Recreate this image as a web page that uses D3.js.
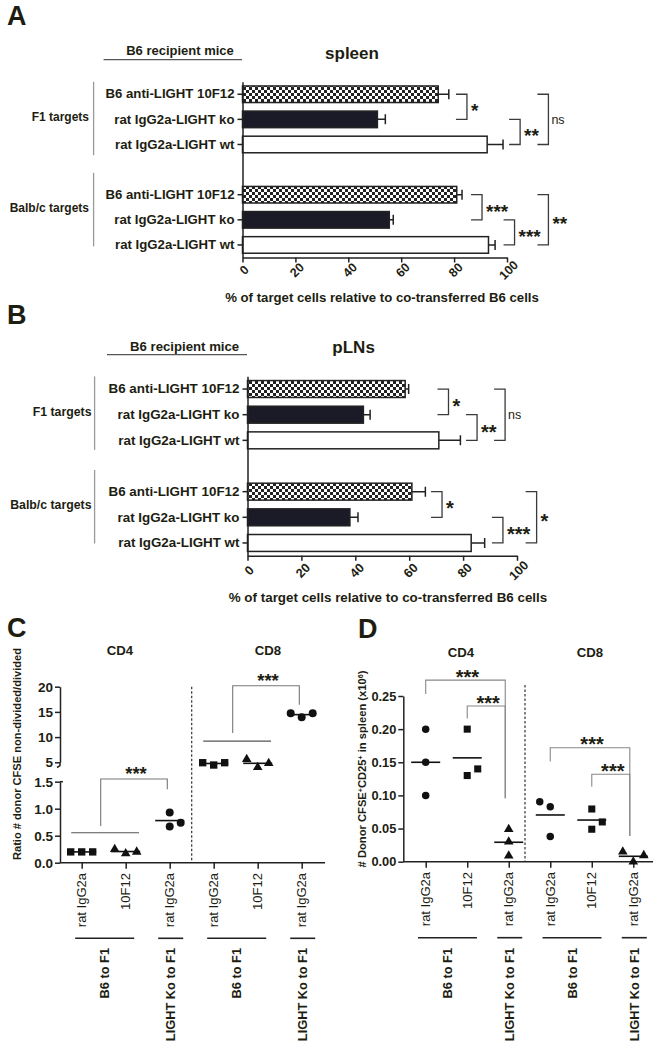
<!DOCTYPE html>
<html><head><meta charset="utf-8">
<script src="https://cdn.jsdelivr.net/npm/d3@7"></script>
<style>
body{margin:0;background:#fff}
svg{display:block}
text{font-family:"Liberation Sans",Arial,Helvetica,sans-serif;fill:#1d1d12}
</style>
</head><body>
<svg id="c" width="661" height="1050"></svg>
<script>
// ---------------- DATA ----------------
const rowLabels = ["B6 anti-LIGHT 10F12", "rat IgG2a-LIGHT ko", "rat IgG2a-LIGHT wt"];
const targetGroups = ["F1 targets", "Balb/c targets"];
const percentTicks = [0, 20, 40, 60, 80, 100];
const xTitle = "% of target cells relative to co-transferred B6 cells";

const spleenF1 = [74, 51, 92.5];
const spleenF1Err = [4, 3, 6];
const spleenBalb = [81, 55.5, 93];
const spleenBalbErr = [2, 1.5, 2.5];

const plnF1 = [58.5, 43, 71];
const plnF1Err = [1.3, 2.5, 8];
const plnBalb = [61, 38, 83];
const plnBalbErr = [5, 3, 5];

// significance brackets: [group, fromRow, toRow, bracket position (% units), label]
const spleenSig = [[0,0,1,80.7,"*"],[0,1,2,100.8,"**"],[0,0,2,111.5,"ns"],
                   [1,0,1,86.4,"***"],[1,1,2,98.7,"***"],[1,0,2,111.5,"**"]];
const plnSig = [[0,0,1,70.5,"*"],[0,1,2,81.1,"**"],[0,0,2,91.5,"ns"],
                [1,0,1,68.1,"*"],[1,1,2,90.7,"***"],[1,0,2,103.2,"*"]];

const scatterCats = ["rat IgG2a", "10F12", "rat IgG2a", "rat IgG2a", "10F12", "rat IgG2a"];
const cellTypes = ["CD4", "CD8"];
const donorGroups = [{label:"B6 to F1", cats:[0,1]}, {label:"LIGHT Ko to F1", cats:[2]},
                     {label:"B6 to F1", cats:[3,4]}, {label:"LIGHT Ko to F1", cats:[5]}];

// Panel C: ratio non-divided/divided
const ratioValues = [[0.2,0.2,0.2],[0.25,0.17,0.2],[0.93,0.67,0.74],
                     [4.92,4.46,4.92],[5.6,4.0,4.8],[14.72,13.93,14.72]];
const ratioSlots = [[-1,0,1],[-1,0,1],[0,0,1],[-1,0,1],[-1,0,1],[-1,0,1]];
const ratioShapes = ["square","triangle","circle","square","triangle","circle"];
const ratioLowTicks = [0, 0.5, 1.0, 1.5];
const ratioHighTicks = [5, 10, 15, 20];
const ratioSig = [{from:[0,1], to:2, top:1.55, fromEnd:0.68, toEnd:1.36, label:"***"},
                  {from:[3,4], to:5, top:20.2, fromEnd:10.8, toEnd:16.4, label:"***"}];
const ratioCompare = [{cats:[0,1], level:0.555}, {cats:[3,4], level:9.2}];
const ratioYLabel = "Ratio # donor CFSE non-divided/divided";

// Panel D: # donor CFSE+CD25+ (x10^6)
const cd25Values = [[0.20,0.15,0.10],[0.20,0.13,0.14],[0.049,0.03,0.009],
                    [0.0905,0.083,0.038],[0.0795,0.06,0.049],[0.015,0.0095,0.0]];
const cd25Slots = [[0,0,0],[0,0,1],[0,0,0],[-1,0,0],[0,1,0],[-1,1,0]];
const cd25Shapes = ["circle","square","triangle","circle","square","triangle"];
const cd25Ticks = [0, 0.05, 0.10, 0.15, 0.20, 0.25];
const cd25Sig = [{from:[0], to:2, top:0.274, fromEnd:0.253, toEnd:0.0957, label:"***"},
                 {from:[1], to:2, top:0.235, fromEnd:0.216, toEnd:0.0957, label:"***"},
                 {from:[3], to:5, top:0.172, fromEnd:0.151, toEnd:0.0388, label:"***"},
                 {from:[4], to:5, top:0.132, fromEnd:0.113, toEnd:0.0388, label:"***"}];

// ---------------- DRAW ----------------
const svg = d3.select("#c");
svg.append("rect").attr("width",661).attr("height",1050).attr("fill","#fff");
const defs = svg.append("defs");
const pat = defs.append("pattern").attr("id","checker").attr("patternUnits","userSpaceOnUse")
  .attr("width",6).attr("height",6);
pat.append("rect").attr("width",6).attr("height",6).attr("fill","#fff");
pat.append("rect").attr("width",3).attr("height",3).attr("fill","#222");
pat.append("rect").attr("x",3).attr("y",3).attr("width",3).attr("height",3).attr("fill","#222");

function txt(g, x, y, s, o) {
  o = o || {};
  const t = g.append("text").attr("x",x).attr("y",y).text(s)
    .style("font-size",(o.fs||13)+"px").style("font-weight",o.w||"bold")
    .attr("text-anchor",o.a||"start");
  if (o.dy) t.attr("dy",o.dy);
  return t;
}

// panel letters
[["A",7,25],["B",7,324],["C",7,637],["D",358,638]].forEach(([l,x,y])=>txt(svg,x,y,l,{fs:27}));

function barPanel(c) {
  const g = svg.append("g");
  const slots = ["0-0","0-1","0-2","gap","1-0","1-1","1-2"];
  const y = d3.scaleBand().domain(slots).range(c.yRange).paddingInner(0.34).paddingOuter(0.17);
  const x = d3.scaleLinear().domain([0,100]).range(c.xRange);
  const bw = y.bandwidth();
  const fills = ["url(#checker)","#1b1b27","#ffffff"];
  const rows = [];
  c.means.forEach((arr,gi)=>arr.forEach((v,ri)=>rows.push({gi,ri,v,e:c.errs[gi][ri],slot:gi+"-"+ri})));

  g.selectAll("path.err").data(rows).join("path").attr("class","err")
    .attr("d",d=>{const cy=y(d.slot)+bw/2, x1=x(d.v), x2=x(d.v+d.e);
      return `M${x1},${cy}H${x2}M${x2},${cy-5}V${cy+5}`;})
    .attr("stroke","#222").attr("stroke-width",1.5).attr("fill","none");
  g.selectAll("rect.bar").data(rows).join("rect").attr("class","bar")
    .attr("x",x(0)).attr("y",d=>y(d.slot)).attr("width",d=>x(d.v)-x(0)).attr("height",bw)
    .attr("fill",d=>fills[d.ri]).attr("stroke","#222").attr("stroke-width",1.5);

  const ax = g.append("g").attr("transform",`translate(0,${c.yRange[1]})`).attr("color","#222")
    .call(d3.axisBottom(x).tickValues(percentTicks).tickSize(5).tickSizeOuter(0));
  ax.selectAll("path,line").style("stroke-width","1.5px");
  ax.selectAll("text").attr("y",null).attr("dy","0.35em").attr("text-anchor","middle")
    .attr("transform",`translate(1,${c.tickDy}) rotate(-45)`)
    .style("font-size",c.tickFs+"px").style("font-weight","bold");
  const ay = g.append("g").attr("transform",`translate(${x(0)},0)`).attr("color","#222")
    .call(d3.axisLeft(y).tickValues(slots.filter(s=>s!=="gap"))
      .tickFormat(s=>rowLabels[+s.split("-")[1]]).tickSize(5).tickSizeOuter(0).tickPadding(3));
  ay.selectAll("path,line").style("stroke-width","1.5px");
  ay.selectAll("text").style("font-size",c.fs+"px").style("font-weight","bold");

  targetGroups.forEach((lab,gi)=>{
    const cy = y(gi+"-1")+bw/2 + c.groupDy[gi];
    txt(g, c.groupX, cy, lab, {fs:c.groupFs, a:"end", dy:"0.35em"});
    g.append("line").attr("x1",c.groupLineX).attr("x2",c.groupLineX)
      .attr("y1",cy-35).attr("y2",cy+38.5).attr("stroke","#9a9a9a").attr("stroke-width",1.3);
  });

  txt(g, c.recipX, c.recipY, "B6 recipient mice", {fs:c.fs-0.2, a:"middle"});
  g.append("line").attr("x1",c.underline[0]).attr("x2",c.underline[1])
    .attr("y1",c.underline[2]).attr("y2",c.underline[2]).attr("stroke","#555").attr("stroke-width",1.2);
  txt(g, c.titleX, c.titleY, c.title, {fs:c.titleFs, a:"middle"});
  txt(g, c.xTitleX, c.xTitleY, xTitle, {fs:c.fs, a:"middle"});

  c.sig.forEach(([gi,r1,r2,xv,lab])=>{
    const y1=y(gi+"-"+r1)+bw/2, y2=y(gi+"-"+r2)+bw/2, bx=x(xv), arm=11;
    g.append("path").attr("d",`M${bx},${y1}H${bx+arm}V${y2}H${bx}`)
      .attr("fill","none").attr("stroke","#3a3a3a").attr("stroke-width",1.3);
    const my=(y1+y2)/2;
    if (lab==="ns") txt(g, bx+arm+3, my, lab, {fs:12.5, w:"normal", dy:"0.35em"});
    else txt(g, bx+arm+4, my+0.55*c.starFs, lab, {fs:c.starFs});
  });
}

barPanel({xRange:[242.5,507], yRange:[81.7,257.5], means:[spleenF1,spleenBalb], errs:[spleenF1Err,spleenBalbErr],
  sig:spleenSig, title:"spleen", titleX:352, titleY:59.3, titleFs:17, recipX:180, recipY:55,
  underline:[103.6,242,59.6], groupX:89, groupLineX:93.6, groupDy:[-2.6,-12], groupFs:12,
  fs:13.2, tickFs:12.5, tickDy:12.5, xTitleX:382, xTitleY:301.5, starFs:19});
barPanel({xRange:[247.5,517], yRange:[376.2,555.8], means:[plnF1,plnBalb], errs:[plnF1Err,plnBalbErr],
  sig:plnSig, title:"pLNs", titleX:353.6, titleY:352.7, titleFs:17, recipX:184.6, recipY:350.7,
  underline:[107,247,354.6], groupX:91.5, groupLineX:94.6, groupDy:[-3.3,-12.3], groupFs:12.3,
  fs:13.4, tickFs:12.7, tickDy:14.5, xTitleX:388, xTitleY:601.8, starFs:20});

// ---------- scatter helpers ----------
const symTypes = {square:d3.symbolSquare, triangle:d3.symbolTriangle, circle:d3.symbolCircle};
function drawScatter(g, xs, yv, values, slots, shapes, slotW, sizes) {
  values.forEach((arr,i)=>{
    arr.forEach((v,j)=>{
      g.append("path").attr("d",d3.symbol().type(symTypes[shapes[i]]).size(sizes[shapes[i]])())
        .attr("transform",`translate(${xs(i)+slots[i][j]*slotW},${yv(v)})`).attr("fill","#111");
    });
    const m = d3.mean(arr);
    g.append("line").attr("x1",xs(i)-14.5).attr("x2",xs(i)+14.5).attr("y1",yv(m)).attr("y2",yv(m))
      .attr("stroke","#111").attr("stroke-width",1.6);
  });
}
function drawCatLabels(g, xs, yTop, yLine, yGroup) {
  scatterCats.forEach((s,i)=>{
    g.append("text").attr("transform",`translate(${xs(i)},${yTop}) rotate(-90)`)
      .attr("text-anchor","end").attr("dy","0.35em").style("font-size","13px").text(s);
  });
  donorGroups.forEach(grp=>{
    const cx = d3.mean(grp.cats, i=>xs(i)) + 1;
    const hw = grp.cats.length>1 ? 29.5 : 12.5;
    g.append("line").attr("x1",cx-hw).attr("x2",cx+hw).attr("y1",yLine).attr("y2",yLine)
      .attr("stroke","#222").attr("stroke-width",1.6);
    g.append("text").attr("transform",`translate(${cx},${yGroup}) rotate(-90)`)
      .attr("text-anchor","end").attr("dy","0.35em").style("font-size","12.8px").style("font-weight","bold")
      .text(grp.label);
  });
}
function styleAxis(a, fs) {
  a.attr("color","#222");
  a.selectAll("path,line").style("stroke-width","1.5px");
  a.selectAll("text").style("font-size",fs+"px").style("font-weight","bold");
}

// ---------- Panel C ----------
(function(){
  const g = svg.append("g");
  const x0 = 60, xEnd = 325;
  const xs = d3.scalePoint().domain(d3.range(6)).range([81.7,301.7]);
  const yLow = d3.scaleLinear().domain([0,1.5]).range([862.7,781.7]);
  const yHigh = d3.scaleLinear().domain([5,20]).range([762.3,686.7]);
  const yv = v => v > 3 ? yHigh(v) : yLow(v);
  const yBase = yLow(0);

  const dx = (xs(2)+xs(3))/2;
  g.append("line").attr("x1",dx).attr("x2",dx).attr("y1",yHigh(20)).attr("y2",yBase)
    .attr("stroke","#333").attr("stroke-width",1.2).attr("stroke-dasharray","2.5,2");

  styleAxis(g.append("g").attr("transform",`translate(${x0},0)`)
    .call(d3.axisLeft(yLow).tickValues(ratioLowTicks).tickFormat(d3.format(".1f")).tickSize(5).tickSizeOuter(0).tickPadding(2)), 13.5);
  styleAxis(g.append("g").attr("transform",`translate(${x0},0)`)
    .call(d3.axisLeft(yHigh).tickValues(ratioHighTicks).tickFormat(d3.format("d")).tickSize(5).tickSizeOuter(0).tickPadding(2)), 13.5);
  g.append("path").attr("d",`M${x0},${yHigh(5)}V${yHigh(5)+3.4}l-3,1.8`).attr("fill","none")
    .attr("stroke","#222").attr("stroke-width",1.5);
  g.append("path").attr("d",`M${x0},${yLow(1.5)}h3`).attr("stroke","#222").attr("stroke-width",1.5);
  const axX = g.append("g").attr("transform",`translate(0,${yBase})`)
    .call(d3.axisBottom(xs).tickSize(6).tickFormat(""));
  axX.select(".domain").attr("d",`M${x0},0H${xEnd}`);
  styleAxis(axX, 12);

  ratioCompare.forEach(cp=>{
    g.append("line").attr("x1",xs(cp.cats[0])-10.5).attr("x2",xs(cp.cats[1])+13.3)
      .attr("y1",yv(cp.level)).attr("y2",yv(cp.level)).attr("stroke","#555").attr("stroke-width",1.1);
  });
  ratioSig.forEach(s=>{
    const xl = d3.mean(s.from, i=>xs(i)) - 3, xr = xs(s.to) - 2.4;
    g.append("path").attr("d",`M${xl},${yv(s.fromEnd)}V${yv(s.top)}H${xr}V${yv(s.toEnd)}`)
      .attr("fill","none").attr("stroke","#777").attr("stroke-width",1.1);
    txt(g, (xl+xr)/2+2, yv(s.top)-8.8+0.55*18.5, s.label, {fs:18.5, a:"middle"});
  });

  drawScatter(g, xs, yv, ratioValues, ratioSlots, ratioShapes, 11, {square:54, triangle:40, circle:50});
  drawCatLabels(g, xs, 873, 938.3, 948);

  txt(g, 120, 654.6, cellTypes[0], {fs:13.2, a:"middle"});
  txt(g, 268, 654.6, cellTypes[1], {fs:13.2, a:"middle"});
  g.append("text").attr("transform","translate(16.7,754) rotate(-90)").attr("text-anchor","middle")
    .attr("dy","0.35em").style("font-size","11.1px").style("font-weight","bold").text(ratioYLabel);
})();

// ---------- Panel D ----------
(function(){
  const g = svg.append("g");
  const x0 = 403.3, xEnd = 653;
  const xs = d3.scalePoint().domain(d3.range(6)).range([425.7,633.3]);
  const y = d3.scaleLinear().domain([0,0.25]).range([861.7,696]);
  const yBase = y(0);

  g.append("line").attr("x1",525).attr("x2",525).attr("y1",685).attr("y2",yBase)
    .attr("stroke","#333").attr("stroke-width",1.2).attr("stroke-dasharray","2.5,2");

  styleAxis(g.append("g").attr("transform",`translate(${x0},0)`)
    .call(d3.axisLeft(y).tickValues(cd25Ticks).tickFormat(d3.format(".2f")).tickSize(5).tickSizeOuter(0).tickPadding(2)), 12.8);
  const axX = g.append("g").attr("transform",`translate(0,${yBase})`)
    .call(d3.axisBottom(xs).tickSize(6).tickFormat(""));
  axX.select(".domain").attr("d",`M${x0},0H${xEnd}`);
  styleAxis(axX, 12);

  cd25Sig.forEach(s=>{
    const xl = d3.mean(s.from, i=>xs(i)), xr = xs(s.to) - 3.5;
    g.append("path").attr("d",`M${xl},${y(s.fromEnd)}V${y(s.top)}H${xr}V${y(s.toEnd)}`)
      .attr("fill","none").attr("stroke","#888").attr("stroke-width",1.1);
    txt(g, (xl+xr)/2+2, y(s.top)-7.3+0.55*20, s.label, {fs:20, a:"middle"});
  });

  drawScatter(g, xs, y, cd25Values, cd25Slots, cd25Shapes, 10.5, {square:50, triangle:40, circle:44});
  drawCatLabels(g, xs, 872, 937.7, 948);

  txt(g, 461, 656.5, cellTypes[0], {fs:13.2, a:"middle"});
  txt(g, 590, 656.5, cellTypes[1], {fs:13.2, a:"middle"});
  const t = g.append("text").attr("transform","translate(361.7,769) rotate(-90)").attr("text-anchor","middle")
    .attr("dy","0.35em").style("font-size","11.2px").style("font-weight","bold");
  t.append("tspan").text("# Donor CFSE");
  t.append("tspan").attr("baseline-shift","super").style("font-size","7px").text("+");
  t.append("tspan").text("CD25");
  t.append("tspan").attr("baseline-shift","super").style("font-size","7px").text("+");
  t.append("tspan").text(" in spleen (x10");
  t.append("tspan").attr("baseline-shift","super").style("font-size","7px").text("6");
  t.append("tspan").text(")");
})();
</script>
</body></html>
